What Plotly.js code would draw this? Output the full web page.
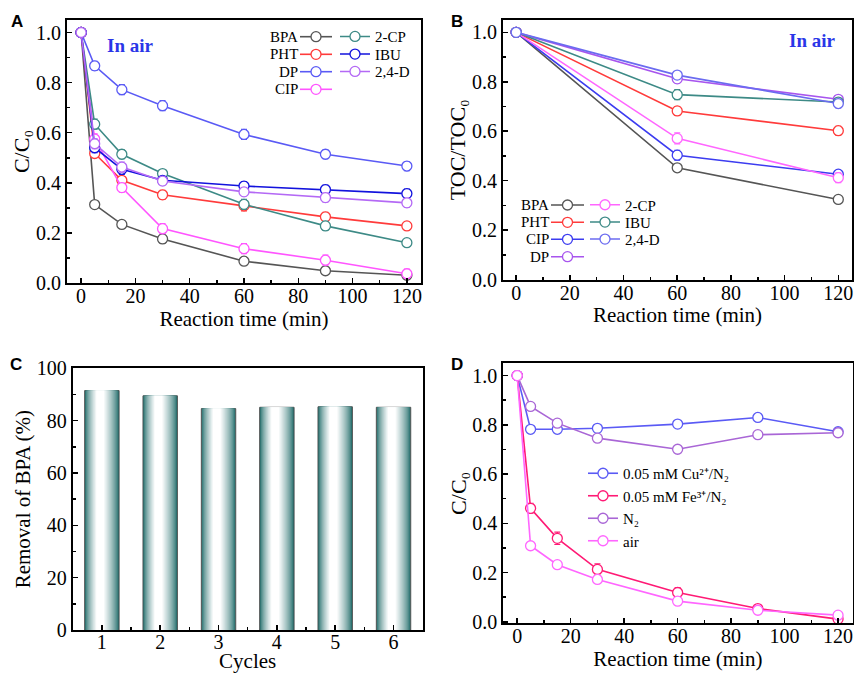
<!DOCTYPE html>
<html><head><meta charset="utf-8">
<script src="https://cdn.plot.ly/plotly-3.0.1.min.js"></script>
<style>html,body{margin:0;padding:0;background:#fff;}#chart{width:854px;height:673px;}</style>
</head><body><div id="chart"></div>
<script>
// ---------- DATA ----------
const timeA = [0, 5, 15, 30, 60, 90, 120];
const bpaA = [1.0, 0.313, 0.234, 0.176, 0.087, 0.049, 0.031];
const phtA = [1.0, 0.517, 0.410, 0.352, 0.308, 0.264, 0.228];
const dpA  = [1.0, 0.867, 0.772, 0.708, 0.593, 0.514, 0.467];
const cipA = [1.0, 0.575, 0.381, 0.217, 0.137, 0.091, 0.037];
const cp2A = [1.0, 0.634, 0.514, 0.437, 0.314, 0.228, 0.161];
const ibuA = [1.0, 0.540, 0.454, 0.410, 0.387, 0.373, 0.357];
const d24A = [1.0, 0.556, 0.463, 0.407, 0.364, 0.341, 0.320];
const bpaAErr = [0, 0.012, 0.015, 0.018, 0.015, 0.012, 0.010];
const phtAErr = [0, 0.015, 0.015, 0.018, 0.020, 0.018, 0.015];
const dpAErr  = [0, 0.018, 0.020, 0.020, 0.020, 0.018, 0.018];
const cipAErr = [0, 0.020, 0.018, 0.020, 0.020, 0.020, 0.018];
const cp2AErr = [0, 0.020, 0.018, 0.015, 0.020, 0.018, 0.012];
const ibuAErr = [0, 0.020, 0.020, 0.015, 0.018, 0.018, 0.018];
const d24AErr = [0, 0.020, 0.020, 0.015, 0.015, 0.018, 0.018];

const timeB = [0, 60, 120];
const bpaB = [1.0, 0.452, 0.324];
const phtB = [1.0, 0.682, 0.602];
const cipB = [1.0, 0.503, 0.426];
const dpB  = [1.0, 0.812, 0.729];
const cp2B = [1.0, 0.571, 0.412];
const ibuB = [1.0, 0.748, 0.718];
const d24B = [1.0, 0.827, 0.712];
const bpaBErr = [0, 0.015, 0.015];
const phtBErr = [0, 0.018, 0.018];
const cipBErr = [0, 0.020, 0.015];
const dpBErr  = [0, 0.015, 0.015];
const cp2BErr = [0, 0.022, 0.020];
const ibuBErr = [0, 0.020, 0.015];
const d24BErr = [0, 0.012, 0.018];

const cycles = [1, 2, 3, 4, 5, 6];
const removal = [91.5, 89.5, 84.6, 85.1, 85.3, 85.1];

const timeD = [0, 5, 15, 30, 60, 90, 120];
const cuD  = [1.0, 0.782, 0.782, 0.786, 0.803, 0.830, 0.772];
const feD  = [1.0, 0.461, 0.339, 0.213, 0.119, 0.054, 0.011];
const n2D  = [1.0, 0.875, 0.807, 0.746, 0.701, 0.760, 0.768];
const airD = [1.0, 0.309, 0.232, 0.172, 0.084, 0.047, 0.027];
const cuDErr  = [0, 0.008, 0.008, 0.008, 0.008, 0.008, 0.008];
const feDErr  = [0, 0.020, 0.025, 0.022, 0.020, 0.015, 0.010];
const n2DErr  = [0, 0.010, 0.010, 0.010, 0.010, 0.010, 0.010];
const airDErr = [0, 0.010, 0.010, 0.010, 0.010, 0.010, 0.010];
const namesD = ['0.05 mM Cu\u00B2\u207A/N\u2082', '0.05 mM Fe\u00B3\u207A/N\u2082', 'N\u2082', 'air'];

const xTitle = 'Reaction time (min)';
const yTitleA = 'C/C\u2080';
const yTitleB = 'TOC/TOC\u2080';
const yTitleC = 'Removal of BPA (%)';
const xTitleC = 'Cycles';

// ---------- helpers ----------
const W = 854, H = 673;
const px = v => v / W;
const py = v => 1 - v / H;
const SERIF = 'Liberation Serif, Times New Roman, serif';

function series(name, x, y, err, color, xa, ya, leg, showleg) {
  return {
    type: 'scatter', mode: 'lines+markers', name: name, x: x, y: y,
    xaxis: xa, yaxis: ya, legend: leg, showlegend: showleg,
    line: {color: color, width: 1.6},
    marker: {symbol: 'circle', size: 10, color: 'white', line: {color: color, width: 1.3}},
    error_y: {type: 'data', array: err, visible: true, color: color, thickness: 1.2, width: 3},
    cliponaxis: false
  };
}
function legendAt(xp, yp) {
  return {x: px(xp), y: py(yp), xanchor: 'left', yanchor: 'middle',
    bgcolor: 'rgba(0,0,0,0)', borderwidth: 0, itemwidth: 30,
    font: {family: SERIF, size: 15, color: 'black'}};
}

const traces = [];
const layout = {
  width: W, height: H, margin: {l: 0, r: 0, t: 0, b: 0},
  paper_bgcolor: 'white', plot_bgcolor: 'white', showlegend: true,
  font: {family: SERIF, color: 'black'},
  annotations: [], shapes: []
};

// legend key with its label on the left of the line-and-circle sample, drawn in paper space
function leftKey(label, color, textRight, lineX0, lineX1, yRow) {
  layout.annotations.push({xref: 'paper', yref: 'paper', x: px(textRight), y: py(yRow), xanchor: 'right', yanchor: 'middle',
    text: label, showarrow: false, font: {family: SERIF, size: 15, color: 'black'}});
  layout.shapes.push({type: 'line', xref: 'paper', yref: 'paper', x0: px(lineX0), x1: px(lineX1), y0: py(yRow), y1: py(yRow),
    line: {color: color, width: 1.6}, layer: 'above'});
  const cx = (lineX0 + lineX1) / 2, rr = 5;
  layout.shapes.push({type: 'circle', xref: 'paper', yref: 'paper', x0: px(cx - rr), x1: px(cx + rr), y0: py(yRow + rr), y1: py(yRow - rr),
    fillcolor: 'white', line: {color: color, width: 1.3}, layer: 'above'});
}

// ---------- Panel A ----------
const colA = {BPA: '#555555', PHT: '#ff3b3b', DP: '#5a5af5', CIP: '#ff55ff', '2-CP': '#3d8a86', IBU: '#1212dd', '2,4-D': '#b469f5'};
const rowsA = [36.7, 54.3, 71.7, 89.3];
const col1A = [['BPA', bpaA, bpaAErr], ['PHT', phtA, phtAErr], ['DP', dpA, dpAErr], ['CIP', cipA, cipAErr]];
const col2A = [['2-CP', cp2A, cp2AErr], ['IBU', ibuA, ibuAErr], ['2,4-D', d24A, d24AErr]];
let legIdx = 1;
function legName(i) { return i === 1 ? 'legend' : 'legend' + i; }
col1A.forEach((s, i) => {
  traces.push(series(s[0], timeA, s[1], s[2], colA[s[0]], 'x', 'y', 'legend', false));
  leftKey(s[0], colA[s[0]], 300, 300, 332, rowsA[i]);
});
col2A.forEach((s, i) => {
  const ln = legName(legIdx++);
  traces.push(series(s[0], timeA, s[1], s[2], colA[s[0]], 'x', 'y', ln, true));
  layout[ln] = legendAt(335, rowsA[i]);
});

// ---------- Panel B ----------
const colB = {BPA: '#555555', PHT: '#ff3b3b', CIP: '#3c3cf0', DP: '#a855ee', '2-CP': '#ff66ff', IBU: '#3d8a86', '2,4-D': '#6b6bf0'};
const rowsB = [205, 222.3, 239.3, 256.7];
const col1B = [['BPA', bpaB, bpaBErr], ['PHT', phtB, phtBErr], ['CIP', cipB, cipBErr], ['DP', dpB, dpBErr]];
const col2B = [['2-CP', cp2B, cp2BErr], ['IBU', ibuB, ibuBErr], ['2,4-D', d24B, d24BErr]];
col1B.forEach((s, i) => {
  traces.push(series(s[0], timeB, s[1], s[2], colB[s[0]], 'x2', 'y2', 'legend', false));
  leftKey(s[0], colB[s[0]], 551, 551, 584, rowsB[i]);
});
col2B.forEach((s, i) => {
  const ln = legName(legIdx++);
  traces.push(series(s[0], timeB, s[1], s[2], colB[s[0]], 'x2', 'y2', ln, true));
  layout[ln] = legendAt(585, rowsB[i]);
});

// ---------- Panel C (gradient bars built from nested overlay bars) ----------
const barW = 0.59, nLayers = 18;
const teal = [27, 104, 102];
for (let k = 0; k < nLayers; k++) {
  const f = k / (nLayers - 1);
  const l = f * 0.34, r = 1 - f * 0.44;
  const t = Math.pow(f, 0.7);
  const c = teal.map(v => Math.round(v + (255 - v) * t));
  traces.push({
    type: 'bar', x: cycles, y: removal, xaxis: 'x3', yaxis: 'y3', showlegend: false,
    name: 'Removal of BPA', hoverinfo: k === 0 ? 'x+y' : 'skip',
    width: (r - l) * barW, offset: -barW / 2 + l * barW,
    marker: {color: 'rgb(' + c.join(',') + ')', line: {width: k === 0 ? 1 : 0, color: '#555'}}
  });
}
layout.barmode = 'overlay';

// ---------- Panel D ----------
const lnD = legName(legIdx++);
const colD = ['#5a5af5', '#ff1a75', '#a966d6', '#ff66ff'];
[[cuD, cuDErr], [feD, feDErr], [n2D, n2DErr], [airD, airDErr]].forEach((s, i) => {
  traces.push(series(namesD[i], timeD, s[0], s[1], colD[i], 'x4', 'y4', lnD, true));
});
layout[lnD] = {x: px(583), y: py(457), xanchor: 'left', yanchor: 'top', bgcolor: 'rgba(0,0,0,0)', borderwidth: 0,
  itemwidth: 30, tracegroupgap: 0, font: {family: SERIF, size: 15, color: 'black'}};

// ---------- axes ----------
function axis(extra) {
  return Object.assign({
    showline: true, linecolor: 'black', linewidth: 2, mirror: true,
    ticks: 'inside', ticklen: 5, tickwidth: 1.5, tickcolor: 'black',
    showgrid: false, zeroline: false, fixedrange: true,
    tickfont: {family: SERIF, size: 20, color: 'black'}
  }, extra);
}
const minorX = {ticks: 'inside', ticklen: 3, tickwidth: 1.5, tickcolor: 'black', dtick: 10};
const minorY = {ticks: 'inside', ticklen: 3, tickwidth: 1.5, tickcolor: 'black', dtick: 0.1};
const tf = {family: SERIF, size: 21, color: 'black'};
const tfy = {family: SERIF, size: 22, color: 'black'};

layout.xaxis = axis({domain: [px(67), px(421)], range: [-5.2, 125.2], anchor: 'y', tick0: 0, dtick: 20, minor: minorX, ticklabelstandoff: -6,
  title: {text: xTitle, font: tf, standoff: 1}});
layout.yaxis = axis({domain: [py(283), py(20)], range: [0, 1.05], anchor: 'x', tick0: 0, dtick: 0.2, tickformat: '.1f', minor: minorY,
  title: {text: yTitleA, font: tfy, standoff: 0}});
layout.xaxis2 = axis({domain: [px(503), px(852)], range: [-4.9, 125.1], anchor: 'y2', tick0: 0, dtick: 20, minor: minorX, ticklabelstandoff: -6,
  title: {text: xTitle, font: tf, standoff: 1}});
layout.yaxis2 = axis({domain: [py(279.5), py(20)], range: [0, 1.05], anchor: 'x2', tick0: 0, dtick: 0.2, tickformat: '.1f', minor: minorY,
  title: {text: yTitleB, font: tfy, standoff: 0}});
layout.xaxis3 = axis({domain: [px(72.7), px(422.7)], range: [0.5, 6.5], anchor: 'y3', tick0: 1, dtick: 1, ticklabelstandoff: -7,
  minor: {ticks: 'inside', ticklen: 3, tickwidth: 1.5, tickcolor: 'black', dtick: 0.5},
  title: {text: xTitleC, font: tf, standoff: 6}});
layout.yaxis3 = axis({domain: [py(630), py(368.3)], range: [0, 100], anchor: 'x3', tick0: 0, dtick: 20,
  minor: {ticks: 'inside', ticklen: 3, tickwidth: 1.5, tickcolor: 'black', dtick: 10},
  title: {text: yTitleC, font: tf, standoff: 0}});
layout.xaxis4 = axis({domain: [px(503.3), px(852.5)], range: [-5.2, 125.4], anchor: 'y4', tick0: 0, dtick: 20, minor: minorX, ticklabelstandoff: -6,
  title: {text: xTitle, font: tf, standoff: 1}});
layout.yaxis4 = axis({domain: [py(623.3), py(363.3)], range: [-0.006, 1.05], anchor: 'x4', tick0: 0, dtick: 0.2, tickformat: '.1f', minor: minorY,
  title: {text: yTitleA, font: tfy, standoff: 0}});

// ---------- panel letters & labels ----------
const letterFont = {family: 'Liberation Sans, Arial, sans-serif', size: 17, color: 'black'};
[['A', 17, 22], ['B', 457, 21], ['C', 16, 364], ['D', 457, 364]].forEach(a => {
  layout.annotations.push({xref: 'paper', yref: 'paper', x: px(a[1]), y: py(a[2]), xanchor: 'center', yanchor: 'middle',
    text: '<b>' + a[0] + '</b>', showarrow: false, font: letterFont});
});
const airFont = {family: SERIF, size: 19, color: '#2a36e8'};
layout.annotations.push({xref: 'paper', yref: 'paper', x: px(130), y: py(46), xanchor: 'center', yanchor: 'middle',
  text: '<b>In air</b>', showarrow: false, font: airFont});
layout.annotations.push({xref: 'paper', yref: 'paper', x: px(812), y: py(40), xanchor: 'center', yanchor: 'middle',
  text: '<b>In air</b>', showarrow: false, font: airFont});

Plotly.newPlot('chart', traces, layout, {staticPlot: true, displayModeBar: false});
</script></body></html>
